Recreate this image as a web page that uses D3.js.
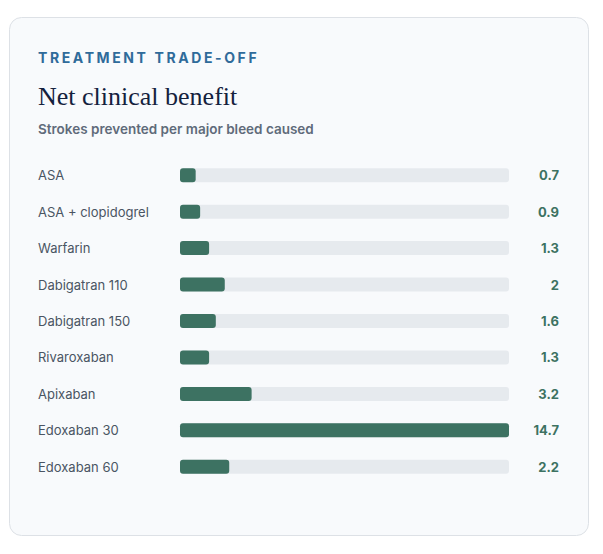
<!DOCTYPE html>
<html><head><meta charset="utf-8">
<script src="https://cdn.jsdelivr.net/npm/d3@7"></script>
<style>
body{margin:0;background:#fff;font-family:Inter,"Noto Sans",sans-serif;}
</style></head>
<body><div id="chart"></div>
<script>
var treatments = ["ASA","ASA + clopidogrel","Warfarin","Dabigatran 110","Dabigatran 150","Rivaroxaban","Apixaban","Edoxaban 30","Edoxaban 60"];
var benefit = [0.7,0.9,1.3,2,1.6,1.3,3.2,14.7,2.2];

var svg = d3.select("#chart").append("svg").attr("width",603).attr("height",554);

// card
svg.append("rect").attr("x",9.5).attr("y",17.5).attr("width",579).attr("height",518)
  .attr("rx",12).attr("fill","#f8fafc").attr("stroke","#dde1e6");

svg.append("text").attr("x",38).attr("y",63).text("TREATMENT TRADE-OFF")
  .style("font-size","14px").style("font-weight",700).style("letter-spacing","2.6px").attr("fill","#2f6b9a");
svg.append("text").attr("x",38).attr("y",105).text("Net clinical benefit")
  .style("font-family","'Liberation Serif',Georgia,serif").style("font-size","26px").attr("fill","#14213d");
svg.append("text").attr("x",38).attr("y",134).text("Strokes prevented per major bleed caused")
  .style("font-size","13.5px").style("font-weight",600).attr("fill","#5f6b7a");

var x = d3.scaleLinear().domain([0,d3.max(benefit)]).range([180,509]);
var y = d3.scaleBand().domain(treatments).range([157,485]).padding(0);

var rows = svg.selectAll("g.row").data(treatments).enter().append("g")
  .attr("transform", d => `translate(0,${y(d)+y.bandwidth()/2})`);

rows.append("text").attr("x",38).attr("y",5).text(d => d)
  .style("font-size","13px").attr("fill","#4a5563");
rows.append("rect").attr("x",x(0)).attr("y",-7).attr("width",x.range()[1]-x(0)).attr("height",14)
  .attr("rx",3).attr("fill","#e6eaee");
rows.append("rect").attr("x",x(0)).attr("y",-7).attr("width",(d,i)=>x(benefit[i])-x(0)).attr("height",14)
  .attr("rx",3).attr("fill","#3d7262");
rows.append("text").attr("x",559).attr("y",5).attr("text-anchor","end").text((d,i)=>benefit[i])
  .style("font-size","13px").style("font-weight",700).attr("fill","#3d7262");
</script></body></html>
